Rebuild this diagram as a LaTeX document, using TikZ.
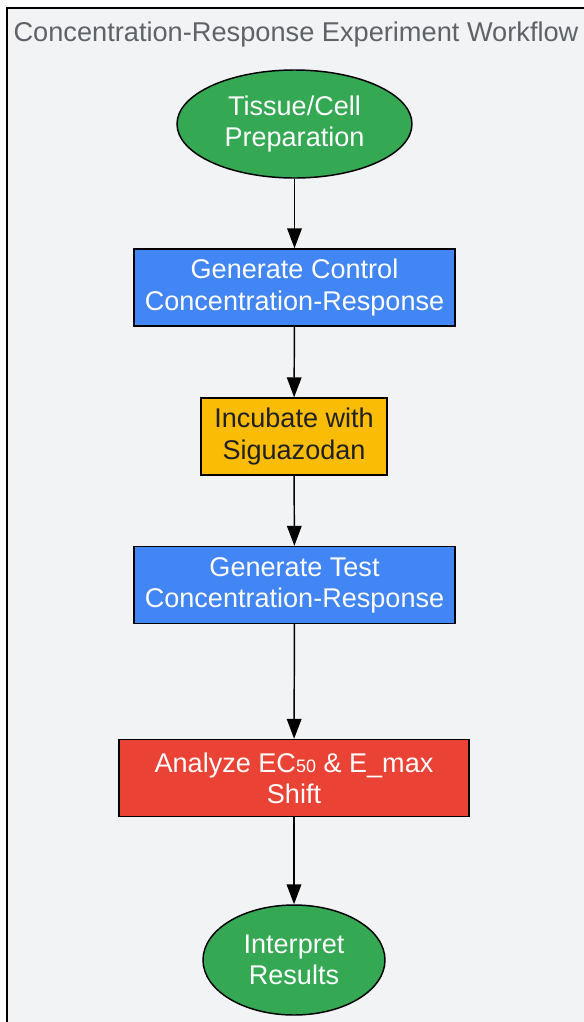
\documentclass[tikz,border=0pt]{standalone}
\usepackage{fontspec}
\setmainfont{Liberation Sans}
\usepackage{tikz}
\usetikzlibrary{arrows.meta,shapes.geometric}

\definecolor{stepgreen}{RGB}{52,168,83}
\definecolor{stepblue}{RGB}{66,133,244}
\definecolor{stepyellow}{RGB}{251,188,5}
\definecolor{stepred}{RGB}{234,67,53}
\definecolor{panelgray}{RGB}{241,243,244}
\definecolor{titlegray}{RGB}{95,99,104}
\definecolor{darktext}{RGB}{32,33,36}

\begin{document}
\begin{tikzpicture}[x=0.75pt,y=-0.75pt]

%
% Styles
%
\tikzstyle{terminal} = [ellipse,draw=black,fill=stepgreen,line width=1.1pt,text=white,align=center,inner sep=0pt,font=\fontsize{20.3}{23.3}\selectfont]
\tikzstyle{process}  = [rectangle,draw=black,line width=1.1pt,text=white,align=center,inner sep=0pt,minimum height=57.75pt,font=\fontsize{20.3}{23.3}\selectfont]
\tikzstyle{edge}     = [-{Triangle[length=15pt,width=11pt]},line width=1.1pt]

% canvas
\useasboundingbox (0,0) rectangle (583,1022);
\draw[fill=panelgray,line width=1.1pt] (7,8) rectangle (600,1040);
\node[text=titlegray,font=\fontsize{20.4}{24}\selectfont] (title) at (296,34) {Concentration-Response Experiment Workflow};

\node[terminal,minimum width=176.25pt,minimum height=81pt] (prep) at (294.5,124) {Tissue/Cell\\Preparation};
\node[process,fill=stepblue,minimum width=240.75pt]  (ctrl)  at (294.5,287.5) {Generate Control\\Concentration-Response};
\node[process,fill=stepyellow,text=darktext,minimum width=139.5pt] (incub) at (294,436.5) {Incubate with\\Siguazodan};
\node[process,fill=stepblue,minimum width=240.75pt]  (test)  at (294.5,585) {Generate Test\\Concentration-Response};
\node[process,fill=stepred,minimum width=262.5pt]    (shift) at (294,778) {Analyze EC{\fontsize{13.5}{13.5}\selectfont\raisebox{-0.6pt}{50}} \& E\_max\\Shift};
\node[terminal,minimum width=136.5pt,minimum height=82.5pt] (interp) at (294,960) {Interpret\\Results};

\draw[edge] (prep)  -- (ctrl);
\draw[edge] (ctrl)  -- (incub);
\draw[edge] (incub) -- (test);
\draw[edge] (test)  -- (shift);
\draw[edge] (shift) -- (interp);

\end{tikzpicture}
\end{document}
